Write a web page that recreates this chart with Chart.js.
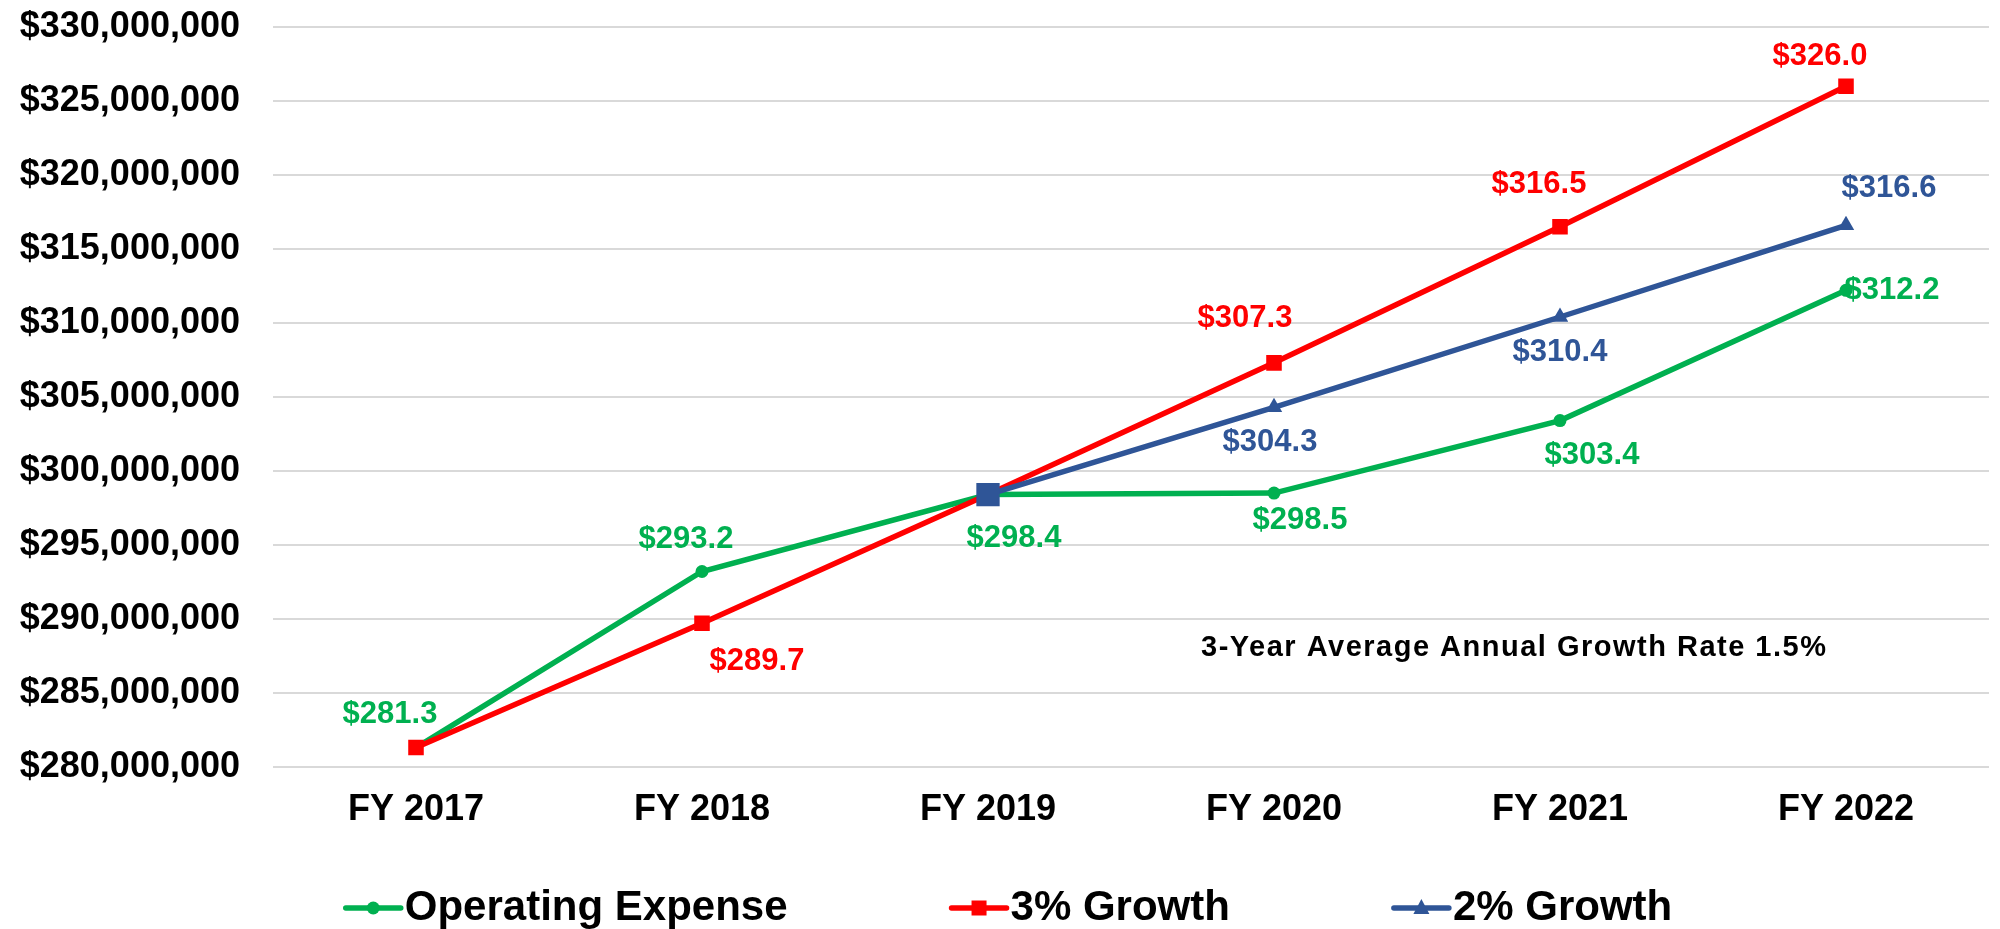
<!DOCTYPE html>
<html>
<head>
<meta charset="utf-8">
<script src="https://cdn.jsdelivr.net/npm/chart.js@4.4.0/dist/chart.umd.min.js"></script>
<style>
    html, body { margin: 0; padding: 0; background: #ffffff; }
    #chart { display: block; }
</style>
</head>
<body>
<canvas id="chart" width="2000" height="929"></canvas>
<script>
// Chart data
const fiscalYears = ["FY 2017", "FY 2018", "FY 2019", "FY 2020", "FY 2021", "FY 2022"];
const operatingExpense = [281300000, 293200000, 298400000, 298500000, 303400000, 312200000];
const growth3 = [281300000, 289700000, 298400000, 307300000, 316500000, 326000000];
const growth2 = [null, null, 298400000, 304300000, 310400000, 316600000];
const seriesNames = ["Operating Expense", "3% Growth", "2% Growth"];
const yMin = 280000000;
const yMax = 330000000;
const yStep = 5000000;
const noteText = "3-Year Average Annual Growth Rate 1.5%";

const FONT = "'Liberation Sans', Arial, sans-serif";
const GREEN = "#00b050";
const RED = "#ff0000";
const BLUE = "#2f5597";

// Where each value label sits relative to its point (null = no label)
const greenLabelOffsets = [[-26, -33], [-16, -32], [26, 44], [26, 27], [32, 35], [46, 0]];
const redLabelOffsets = [null, [55, 38], null, [-29, -44], [-21, -42], [-26, -30]];
const blueLabelOffsets = [null, null, null, [-4, 35], [0, 35], [43, -37]];

function formatMillions(value) {
    return "$" + (value / 1000000).toFixed(1);
}

// Draws the "$281.3" style labels next to the points
const valueLabels = {
    id: "valueLabels",
    afterDatasetsDraw(chart) {
        const ctx = chart.ctx;
        ctx.save();
        ctx.font = "bold 31px " + FONT;
        ctx.textAlign = "center";
        ctx.textBaseline = "middle";
        chart.data.datasets.forEach((dataset, i) => {
            const meta = chart.getDatasetMeta(i);
            meta.data.forEach((point, j) => {
                const offset = dataset.labelOffsets[j];
                const value = dataset.data[j];
                if (!offset || value === null) return;
                ctx.fillStyle = dataset.borderColor;
                ctx.fillText(formatMillions(value), point.x + offset[0], point.y + offset[1]);
            });
        });

        // Growth rate note inside the plot
        const x = chart.scales.x.getPixelForValue(3.84);
        const y = chart.scales.y.getPixelForValue(288000000);
        ctx.font = "bold 29px " + FONT;
        ctx.letterSpacing = "1.5px";
        ctx.fillStyle = "#000000";
        ctx.fillText(noteText, x, y);
        ctx.restore();
    },
};

// Legend drawn under the axis: line with marker, then the series name
const lineLegend = {
    id: "lineLegend",
    afterDraw(chart) {
        const ctx = chart.ctx;
        const lineLength = 55;
        const gap = 4;
        const spacing = 164;
        const y = 908;

        ctx.save();
        ctx.font = "bold 42px " + FONT;
        ctx.textBaseline = "middle";
        ctx.textAlign = "left";

        const widths = chart.data.datasets.map(
            (d) => lineLength + gap + ctx.measureText(d.label).width,
        );
        const total = widths.reduce((a, b) => a + b, 0) + spacing * (widths.length - 1);
        let x = chart.width / 2 - total / 2 + 9;

        chart.data.datasets.forEach((dataset, i) => {
            const color = dataset.borderColor;
            ctx.strokeStyle = color;
            ctx.fillStyle = color;
            ctx.lineWidth = 5.5;
            ctx.lineCap = "round";
            ctx.beginPath();
            ctx.moveTo(x, y);
            ctx.lineTo(x + lineLength, y);
            ctx.stroke();

            const cx = x + lineLength / 2;
            ctx.beginPath();
            if (dataset.legendMarker === "circle") {
                ctx.arc(cx, y, 6.5, 0, Math.PI * 2);
            } else if (dataset.legendMarker === "rect") {
                ctx.rect(cx - 7.5, y - 7.5, 15, 15);
            } else {
                ctx.moveTo(cx, y - 9);
                ctx.lineTo(cx + 8, y + 6);
                ctx.lineTo(cx - 8, y + 6);
                ctx.closePath();
            }
            ctx.fill();

            ctx.fillStyle = "#000000";
            ctx.fillText(dataset.label, x + lineLength + gap, y);
            x += widths[i] + spacing;
        });
        ctx.restore();
    },
};

const chartCanvas = document.querySelector("#chart");

new Chart(chartCanvas, {
    type: "line",
    data: {
        labels: fiscalYears,
        datasets: [
            {
                label: seriesNames[0],
                data: operatingExpense,
                borderColor: GREEN,
                backgroundColor: GREEN,
                borderWidth: 5.5,
                pointStyle: "circle",
                pointRadius: 6.5,
                pointBorderWidth: 0,
                order: 2,
                legendMarker: "circle",
                labelOffsets: greenLabelOffsets,
            },
            {
                label: seriesNames[1],
                data: growth3,
                borderColor: RED,
                backgroundColor: RED,
                borderWidth: 5.5,
                pointStyle: "rect",
                pointRadius: 11,
                pointBorderWidth: 0,
                order: 1,
                legendMarker: "rect",
                labelOffsets: redLabelOffsets,
            },
            {
                label: seriesNames[2],
                data: growth2,
                borderColor: BLUE,
                backgroundColor: BLUE,
                borderWidth: 5.5,
                pointStyle: ["triangle", "triangle", "rect", "triangle", "triangle", "triangle"],
                pointRadius: [9.5, 9.5, 16.5, 9.5, 9.5, 9.5],
                pointBorderWidth: 0,
                order: 0,
                legendMarker: "triangle",
                labelOffsets: blueLabelOffsets,
            },
        ],
    },
    options: {
        responsive: false,
        animation: false,
        devicePixelRatio: 1,
        layout: {
            padding: { top: 27, right: 0, bottom: 75, left: 0 },
        },
        scales: {
            x: {
                offset: true,
                grid: { display: false, drawTicks: false },
                border: { display: false },
                ticks: {
                    color: "#000000",
                    font: { family: FONT, size: 36, weight: "bold" },
                    padding: 22,
                    maxRotation: 0,
                },
            },
            y: {
                min: yMin,
                max: yMax,
                afterFit: (scale) => {
                    scale.width = 273;
                },
                grid: {
                    color: "#d9d9d9",
                    lineWidth: 2,
                    drawTicks: true,
                    tickLength: 30,
                    tickColor: "rgba(0,0,0,0)",
                },
                border: { display: false },
                ticks: {
                    stepSize: yStep,
                    color: "#000000",
                    font: { family: FONT, size: 36, weight: "bold" },
                    padding: 3,
                    callback: (value) => "$" + value.toLocaleString("en-US"),
                },
            },
        },
        plugins: {
            legend: { display: false },
            tooltip: { enabled: false },
        },
    },
    plugins: [valueLabels, lineLegend],
});
</script>
</body>
</html>
